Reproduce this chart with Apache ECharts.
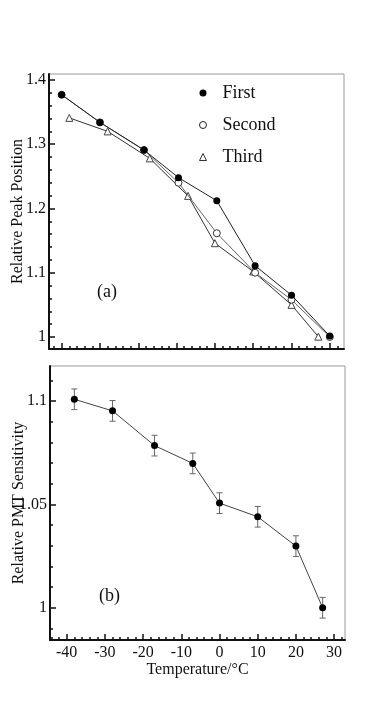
<!DOCTYPE html>
<html>
<head>
<meta charset="utf-8">
<script src="https://cdn.jsdelivr.net/npm/echarts@6/dist/echarts.min.js"></script>
<style>
  html, body { margin: 0; padding: 0; background: #fff; }
  #chart { width: 382px; height: 716px; }
</style>
</head>
<body>
<div id="chart"></div>
<script>
// panel (a): relative peak position, three runs
const tempsAB = [-40, -30, -18.5, -9.5, 0.5, 10.5, 20, 30]
const firstRun = [1.377, 1.334, 1.291, 1.248, 1.212, 1.111, 1.065, 1.0015]
const secondRun = [1.377, 1.334, 1.291, 1.240, 1.1615, 1.100, 1.058, 1.0]
const tempsC = [-38, -28, -17, -7, 0, 10, 20, 27]
const thirdRun = [1.341, 1.320, 1.278, 1.2196, 1.146, 1.102, 1.050, 1.0005]

// panel (b): relative PMT sensitivity with error bars
const sensTemps = [-38, -28, -17, -7, 0, 10, 20, 27]
const sensValues = [1.1008, 1.0952, 1.0784, 1.0698, 1.0506, 1.044, 1.0298, 1.0]
const sensErr = [0.005, 0.005, 0.005, 0.005, 0.005, 0.005, 0.005, 0.005]

// tick labels
const xMajor = [-40, -30, -20, -10, 0, 10, 20, 30]
const yMajorA = [1, 1.1, 1.2, 1.3, 1.4]
const yMajorB = [1, 1.05, 1.1]

function steps(from, to, step) {
  const out = []
  for (let v = from; v <= to + step / 10; v += step) out.push(Math.round(v * 1000) / 1000)
  return out
}
const xMinorA = steps(-42, 32, 2)
const xMinorB = steps(-44, 32, 2)
const yMinorA = steps(1, 1.4, 0.02)
const yMinorB = steps(0.99, 1.11, 0.01)

const FONT = 'Liberation Serif'
const INK = '#111'

function xAxisPair(grid, min, max, minor, showLabel) {
  return [{
    type: 'value', gridIndex: grid, min: min, max: max, position: 'bottom',
    name: showLabel ? 'Temperature/\u00b0C' : '', nameLocation: 'middle', nameGap: 22,
    nameMoveOverlap: false,
    nameTextStyle: { fontFamily: FONT, fontSize: 16, color: INK },
    axisLine: { onZero: false, lineStyle: { color: INK, width: 2 } },
    axisTick: { inside: true, length: 6, customValues: xMajor, lineStyle: { color: INK, width: 1.5 } },
    axisLabel: { show: showLabel, customValues: xMajor, margin: 5, fontFamily: FONT, fontSize: 16, color: INK },
    splitLine: { show: false }
  }, {
    type: 'value', gridIndex: grid, min: min, max: max, position: 'bottom',
    axisLine: { show: false, onZero: false },
    axisTick: { inside: true, length: 3, customValues: minor, lineStyle: { color: INK, width: 1.5 } },
    axisLabel: { show: false },
    splitLine: { show: false }
  }]
}

function yAxisPair(grid, min, max, major, minor, name) {
  return [{
    type: 'value', gridIndex: grid, min: min, max: max, position: 'left',
    name: name, nameLocation: 'middle', nameGap: 23, nameMoveOverlap: false,
    nameTextStyle: { fontFamily: FONT, fontSize: 16, color: INK },
    axisLine: { onZero: false, lineStyle: { color: INK, width: 2 } },
    axisTick: { inside: true, length: 6, customValues: major, lineStyle: { color: INK, width: 1.5 } },
    axisLabel: {
      customValues: major, margin: 3, fontFamily: FONT, fontSize: 16, color: INK,
      formatter: function(v) { return String(+(+v).toFixed(2)) }
    },
    splitLine: { show: false }
  }, {
    type: 'value', gridIndex: grid, min: min, max: max, position: 'left',
    axisLine: { show: false, onZero: false },
    axisTick: { inside: true, length: 3, customValues: minor, lineStyle: { color: INK, width: 1.5 } },
    axisLabel: { show: false },
    splitLine: { show: false }
  }]
}

const chart = echarts.init(document.getElementById('chart'))

chart.setOption({
  backgroundColor: '#FFFFFF',
  animation: false,
  grid: [
    { left: 49, top: 74, width: 295, height: 275, outerBoundsMode: 'none', containLabel: false,
      show: true, borderColor: '#999', borderWidth: 1 },
    { left: 50, top: 366, width: 295, height: 274, outerBoundsMode: 'none', containLabel: false,
      show: true, borderColor: '#999', borderWidth: 1 }
  ],
  legend: {
    orient: 'vertical',
    left: 194,
    top: 79,
    itemWidth: 7,
    itemHeight: 7,
    itemGap: 14,
    selectedMode: false,
    textStyle: { fontFamily: FONT, fontSize: 18, color: INK, padding: [0, 0, 0, 11] },
    data: [
      { name: 'First', icon: 'circle', itemStyle: { color: '#000' } },
      { name: 'Second', icon: 'circle', itemStyle: { color: '#fff', borderColor: '#222', borderWidth: 1 } },
      { name: 'Third', icon: 'triangle', itemStyle: { color: '#fff', borderColor: '#333', borderWidth: 1 } }
    ]
  },
  xAxis: [].concat(
    xAxisPair(0, -43.3, 33.7, xMinorA, false),
    xAxisPair(1, -44.37, 32.85, xMinorB, true)
  ),
  yAxis: [].concat(
    yAxisPair(0, 0.9813, 1.4093, yMajorA, yMinorA, 'Relative Peak Position'),
    yAxisPair(1, 0.9844, 1.1169, yMajorB, yMinorB, 'Relative PMT Sensitivity')
  ),
  graphic: [
    { type: 'text', left: 97, top: 283, style: { text: '(a)', font: '18px "Liberation Serif"', fill: INK } },
    { type: 'text', left: 99, top: 587, style: { text: '(b)', font: '18px "Liberation Serif"', fill: INK } }
  ],
  series: [
    {
      name: 'First', type: 'line', xAxisIndex: 0, yAxisIndex: 0, z: 4,
      data: tempsAB.map(function(t, i) { return [t, firstRun[i]] }),
      symbol: 'circle', symbolSize: 7,
      itemStyle: { color: '#000' },
      lineStyle: { color: '#222', width: 1 }
    },
    {
      name: 'Second', type: 'line', xAxisIndex: 0, yAxisIndex: 0, z: 3,
      data: tempsAB.map(function(t, i) { return [t, secondRun[i]] }),
      symbol: 'circle', symbolSize: 7,
      itemStyle: { color: '#fff', borderColor: '#333', borderWidth: 1 },
      lineStyle: { color: '#666', width: 1 }
    },
    {
      name: 'Third', type: 'line', xAxisIndex: 0, yAxisIndex: 0, z: 2,
      data: tempsC.map(function(t, i) { return [t, thirdRun[i]] }),
      symbol: 'triangle', symbolSize: 7,
      itemStyle: { color: '#fff', borderColor: '#444', borderWidth: 1 },
      lineStyle: { color: '#333', width: 1 }
    },
    {
      name: 'errors', type: 'custom', xAxisIndex: 2, yAxisIndex: 2, z: 2,
      data: sensTemps.map(function(t, i) { return [t, sensValues[i] - sensErr[i], sensValues[i] + sensErr[i]] }),
      encode: { x: 0, y: [1, 2] },
      renderItem(params, api) {
        const lo = api.coord([api.value(0), api.value(1)])
        const hi = api.coord([api.value(0), api.value(2)])
        const st = { stroke: '#666', lineWidth: 1 }
        return {
          type: 'group',
          children: [
            { type: 'line', shape: { x1: lo[0], y1: lo[1], x2: hi[0], y2: hi[1] }, style: st },
            { type: 'line', shape: { x1: lo[0] - 3, y1: lo[1], x2: lo[0] + 3, y2: lo[1] }, style: st },
            { type: 'line', shape: { x1: hi[0] - 3, y1: hi[1], x2: hi[0] + 3, y2: hi[1] }, style: st }
          ]
        }
      }
    },
    {
      name: 'Sensitivity', type: 'line', xAxisIndex: 2, yAxisIndex: 2, z: 4,
      data: sensTemps.map(function(t, i) { return [t, sensValues[i]] }),
      symbol: 'circle', symbolSize: 7,
      itemStyle: { color: '#000' },
      lineStyle: { color: '#444', width: 1 }
    }
  ]
})
</script>
</body>
</html>
